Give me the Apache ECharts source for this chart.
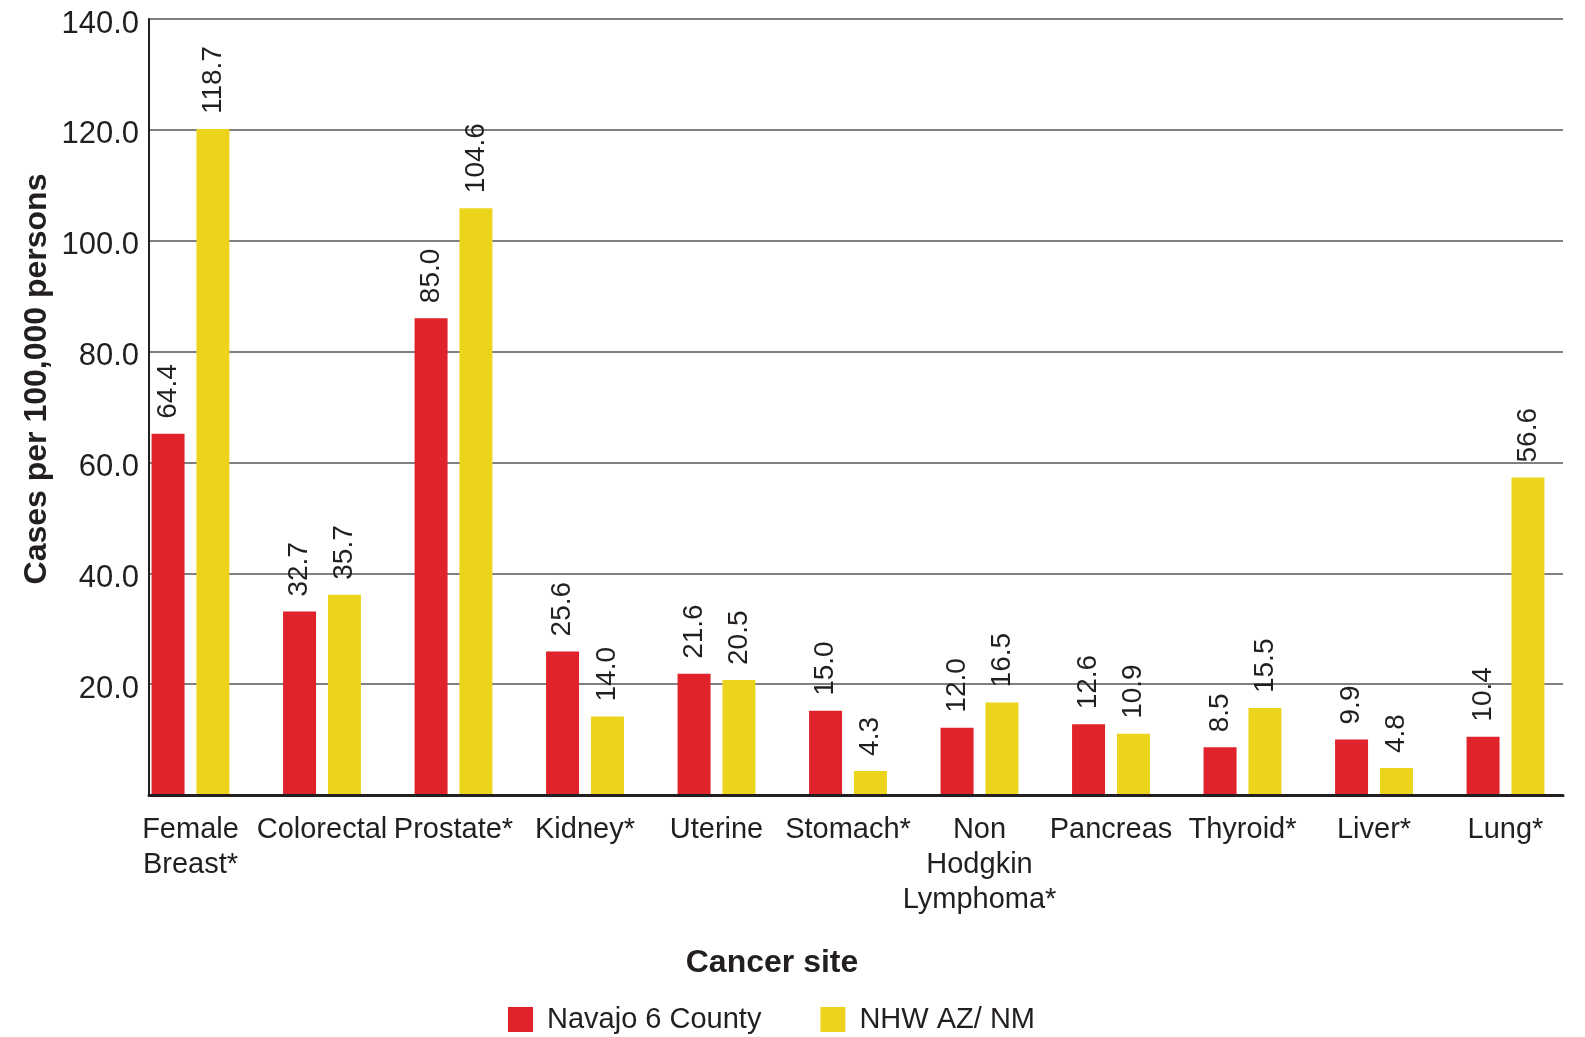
<!DOCTYPE html>
<html>
<head>
<meta charset="utf-8">
<script src="https://cdn.jsdelivr.net/npm/echarts@6/dist/echarts.min.js"></script>
<style>html,body{margin:0;padding:0;background:#fff;}#chart{width:1585px;height:1037px;}</style>
</head>
<body>
<div id="chart"></div>
<script>
const categories = ['Female\nBreast*', 'Colorectal', 'Prostate*', 'Kidney*', 'Uterine', 'Stomach*', 'Non\nHodgkin\nLymphoma*', 'Pancreas', 'Thyroid*', 'Liver*', 'Lung*'];
const navajo = [64.4, 32.7, 85.0, 25.6, 21.6, 15.0, 12.0, 12.6, 8.5, 9.9, 10.4];
const nhw = [118.7, 35.7, 104.6, 14.0, 20.5, 4.3, 16.5, 10.9, 15.5, 4.8, 56.6];
const seriesNames = ['Navajo 6 County', 'NHW AZ/ NM'];
const yTicks = [0, 20, 40, 60, 80, 100, 120, 140];

const FONT = '"Liberation Sans", Arial, Helvetica, sans-serif';
const TXT = '#231f20';
const RED = '#e0222a';
const YEL = '#ecd41c';

const chart = echarts.init(document.getElementById('chart'), null, {renderer: 'canvas'});
const labelCfg = {
  show: true, position: 'top', rotate: 90, align: 'left', verticalAlign: 'middle',
  distance: 15, fontSize: 28, color: TXT, fontFamily: FONT,
  formatter: p => p.value.toFixed(1)
};
const option = {
  backgroundColor: '#fff',
  animation: false,
  textStyle: {fontFamily: FONT, color: TXT},
  legend: {
    data: seriesNames,
    left: 503, top: 1000,
    itemWidth: 25, itemHeight: 25, itemGap: 59,
    icon: 'rect',
    textStyle: {fontSize: 29, color: TXT, fontFamily: FONT, padding: [0, 0, 0, 9]}
  },
  grid: [
    {left: 124.75, width: 1446.5, top: 9.6, bottom: 242, containLabel: false},
    {left: 149, right: 22, top: 19, bottom: 242, containLabel: false}
  ],
  xAxis: [
    {
      gridIndex: 0, type: 'category', data: categories,
      axisLine: {show: false}, axisTick: {show: false},
      axisLabel: {fontSize: 29, color: TXT, fontFamily: FONT, margin: 17, lineHeight: 35, interval: 0}
    },
    {
      gridIndex: 1, type: 'value', min: 0, max: 1, z: 5,
      axisLine: {show: true, onZero: false, lineStyle: {color: TXT, width: 3}},
      axisTick: {show: false}, axisLabel: {show: false}, splitLine: {show: false},
      name: 'Cancer site', nameLocation: 'middle', nameGap: 152, nameMoveOverlap: false,
      nameTextStyle: {fontSize: 32, fontWeight: 'bold', color: TXT, fontFamily: FONT, padding: [0, 168, 0, 0]}
    }
  ],
  yAxis: [
    {
      gridIndex: 0, type: 'value', min: 0, max: 140, interval: 20,
      show: false, splitLine: {show: false}
    },
    {
      gridIndex: 1, type: 'value', min: 0, max: 140, interval: 20,
      axisLine: {show: true, lineStyle: {color: TXT, width: 2}},
      axisTick: {show: false},
      axisLabel: {color: TXT, fontFamily: FONT, margin: 10,
        formatter: v => v === 0 ? '' : '{t|' + v.toFixed(1) + '}',
        rich: {t: {fontSize: 31, color: TXT, fontFamily: FONT, padding: [10, 0, 0, 0]}}},
      splitLine: {show: true, lineStyle: {color: '#808080', width: 2}},
      name: 'Cases per 100,000 persons', nameLocation: 'middle', nameGap: 96, nameRotate: 90,
      nameMoveOverlap: false,
      nameTextStyle: {fontSize: 32, fontWeight: 'bold', color: TXT, fontFamily: FONT, padding: [0, 0, 0, 56]}
    }
  ],
  series: [
    {
      name: seriesNames[0], type: 'bar', xAxisIndex: 0, yAxisIndex: 0,
      data: navajo, barWidth: 33, barGap: '36%',
      itemStyle: {color: RED}, label: labelCfg
    },
    {
      name: seriesNames[1], type: 'bar', xAxisIndex: 0, yAxisIndex: 0,
      data: nhw, barWidth: 33, barGap: '36%',
      itemStyle: {color: YEL}, label: labelCfg
    }
  ]
};
chart.setOption(option);
</script>
</body>
</html>
